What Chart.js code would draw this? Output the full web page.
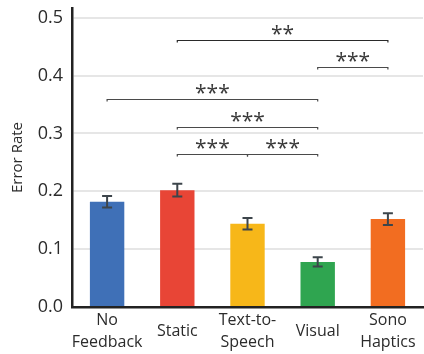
<!DOCTYPE html>
<html>
<head>
<meta charset="utf-8">
<script src="https://cdn.jsdelivr.net/npm/chart.js@4"></script>
<style>
  html, body { margin: 0; padding: 0; background: #ffffff; }
  #wrap { width: 424px; height: 354px; }
</style>
</head>
<body>
<div id="wrap"><canvas id="chart" width="424" height="354"></canvas></div>
<script>
// Error rate per feedback condition (mean with error bar half-width)
const conditions = [['No', 'Feedback'], 'Static', ['Text-to-', 'Speech'], 'Visual', ['Sono', 'Haptics']];
const errorRate = [0.182, 0.202, 0.144, 0.078, 0.152];
const errorSpread = [0.010, 0.011, 0.010, 0.008, 0.010];
const barColors = ['#3f70b7', '#e84536', '#f7b719', '#2fa550', '#f26d21'];
const yTicks = [0, 0.1, 0.2, 0.3, 0.4, 0.5];

// Pairwise significance: [from index, to index, bracket height, stars]
const brackets = [
  [1, 4, 0.462, '**'],
  [3, 4, 0.415, '***'],
  [0, 3, 0.360, '***'],
  [1, 3, 0.311, '***'],
  [1, 2, 0.265, '***'],
  [2, 3, 0.265, '***']
];

const FONT = '"Open Sans", "Noto Sans", sans-serif';

const errorBarPlugin = {
  id: 'errorBars',
  afterDatasetsDraw(chart) {
    const { ctx, scales: { x, y } } = chart;
    ctx.save();
    ctx.strokeStyle = '#3d454b';
    ctx.lineWidth = 2;
    errorRate.forEach((v, i) => {
      const cx = x.getPixelForValue(i);
      const top = y.getPixelForValue(v + errorSpread[i]);
      const bot = y.getPixelForValue(v - errorSpread[i]);
      ctx.beginPath();
      ctx.moveTo(cx, top); ctx.lineTo(cx, bot);
      ctx.moveTo(cx - 5, top); ctx.lineTo(cx + 5, top);
      ctx.moveTo(cx - 5, bot); ctx.lineTo(cx + 5, bot);
      ctx.stroke();
    });
    ctx.restore();
  }
};

const bracketPlugin = {
  id: 'sigBrackets',
  afterDatasetsDraw(chart) {
    const { ctx, scales: { x, y } } = chart;
    ctx.save();
    ctx.font = '21px ' + FONT;
    ctx.textAlign = 'center';
    ctx.textBaseline = 'alphabetic';
    brackets.forEach(([a, b, h, stars], k) => {
      const x1 = x.getPixelForValue(a);
      const x2 = x.getPixelForValue(b);
      const py = Math.round(y.getPixelForValue(h)) + 0.5;
      ctx.strokeStyle = k === 0 ? '#2a2a2a' : '#4a4a4a';
      ctx.lineWidth = 1.2;
      ctx.beginPath();
      ctx.moveTo(x1, py + 2); ctx.lineTo(x1, py);
      ctx.lineTo(x2, py); ctx.lineTo(x2, py + 2);
      ctx.stroke();
      const m = ctx.measureText(stars);
      const inkMid = (m.actualBoundingBoxAscent - m.actualBoundingBoxDescent) / 2;
      ctx.fillStyle = '#3a3a3a';
      ctx.fillText(stars, (x1 + x2) / 2, py - 11 + inkMid);
    });
    ctx.restore();
  }
};

new Chart(document.getElementById('chart'), {
  type: 'bar',
  data: {
    labels: conditions,
    datasets: [{
      data: errorRate,
      backgroundColor: barColors,
      borderWidth: 0,
      barPercentage: 0.49,
      categoryPercentage: 1.0
    }]
  },
  options: {
    responsive: false,
    animation: false,
    events: [],
    layout: { padding: { top: 8, right: 1, left: 0, bottom: 0 } },
    plugins: { legend: { display: false }, tooltip: { enabled: false } },
    scales: {
      x: {
        afterFit(scale) {
          scale.height = 47;
          scale.paddingLeft = 0;
          scale.paddingRight = 0;
        },
        grid: { display: false, drawTicks: false },
        border: { color: '#222222', width: 2.5 },
        ticks: {
          color: '#2b2b2b',
          font: { family: FONT, size: 16, lineHeight: '22px' },
          padding: 13,
          crossAlign: 'center',
          maxRotation: 0,
          autoSkip: false
        }
      },
      y: {
        min: 0,
        max: 0.517,
        afterBuildTicks(scale) {
          scale.ticks = yTicks.map(v => ({ value: v }));
        },
        afterFit(scale) {
          scale.width = 72;
          scale.paddingTop = 0;
        },
        grid: { color: '#e6e6e6', lineWidth: 2, drawTicks: false },
        border: { color: '#222222', width: 2.5 },
        title: {
          display: true,
          text: 'Error Rate',
          color: '#2b2b2b',
          font: { family: FONT, size: 15 },
          padding: { top: 9, bottom: 0 }
        },
        ticks: {
          color: '#2b2b2b',
          font: { family: FONT, size: 18, lineHeight: 1 },
          padding: 9,
          callback: v => v.toFixed(1)
        }
      }
    }
  },
  plugins: [errorBarPlugin, bracketPlugin]
});
</script>
</body>
</html>
